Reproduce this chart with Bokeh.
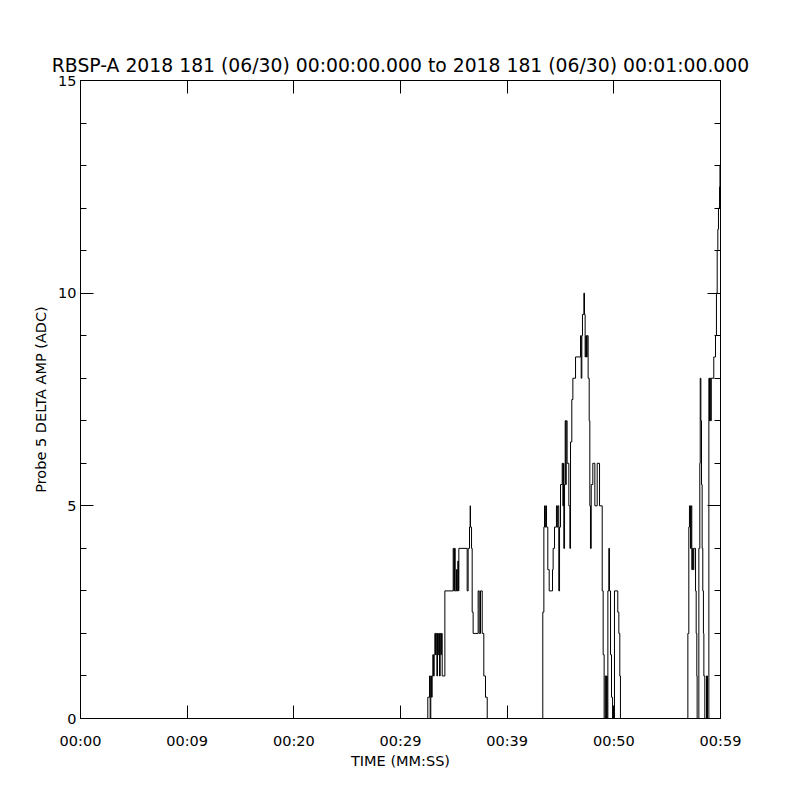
from bokeh.plotting import figure
from bokeh.models import Range1d, FixedTicker, LinearAxis, CustomLabelingPolicy
from bokeh.embed import file_html
from bokeh.resources import INLINE

# ---- data (seconds from 00:00:00, amplitude in ADC) ----
time_quiet = [0.0]
amp_quiet = [0.0]

time_burst1 = [32.56, 32.72, 32.78, 32.84, 32.91, 32.97, 33.03, 33.09, 33.16, 33.22,
               33.28, 33.34, 33.41, 33.47, 33.53, 33.59, 33.66, 33.72, 33.78, 33.84,
               33.91, 34.16, 34.94, 35.00, 35.06, 35.13, 35.25, 35.31, 35.37, 35.44,
               35.47, 36.25, 36.34, 36.47, 36.53, 36.56, 36.66, 36.72, 36.81, 37.28,
               37.38, 37.50, 37.66, 37.81, 37.97, 38.13]
amp_burst1 = [0.5, 1, 0, 1, 0.5, 1, 1.5, 1, 1.5, 2,
              1.5, 2, 1, 2, 1.5, 2, 1, 2, 1.5, 2,
              1, 3, 4, 3, 4, 3, 3.5, 3, 3.7, 3,
              4, 3, 4, 4.5, 5, 4.5, 4, 2.5, 2, 3,
              2, 3, 2, 1, 0.5, 0]

time_burst2 = [43.34, 43.44, 43.50, 43.56, 43.62, 43.69, 43.81, 43.94, 44.25, 44.31,
               44.44, 44.62, 44.69, 44.75, 44.84, 44.91, 45.00, 45.16, 45.22, 45.28,
               45.31, 45.38, 45.44, 45.50, 45.53, 45.62, 45.78, 45.88, 45.94, 46.06,
               46.16, 46.41, 46.88, 46.94, 47.00, 47.06, 47.19, 47.25, 47.31, 47.37,
               47.44, 47.50, 47.59, 47.69, 47.75, 47.81, 47.88, 48.03, 48.22, 48.44,
               48.66, 48.91, 49.00, 49.09, 49.19, 49.25, 49.31, 49.38, 49.44, 49.53,
               49.59, 49.69, 49.78, 49.88, 50.06, 50.37, 50.47, 50.56, 50.62]
amp_burst2 = [2.5, 4.5, 5, 4.5, 5, 4.5, 3.5, 3, 3.5, 4,
              4.5, 5, 4.5, 5, 3, 4.5, 5.5, 6, 5, 6,
              4, 5.5, 7, 5.5, 7, 6, 5, 4, 6.5, 7.5,
              8, 8.5, 9, 8, 9, 9.5, 10, 9.5, 8.5, 9,
              8.5, 9, 8, 7, 5, 4, 5.5, 6, 5, 6,
              5, 3, 1.5, 0, 1, 0, 1, 0, 3, 4,
              3, 1.5, 0.5, 0, 3, 2.5, 2, 1, 0]

time_burst3 = [56.94, 57.03, 57.09, 57.19, 57.25, 57.31, 57.38, 57.44, 57.50, 57.66,
               57.72, 57.78, 57.81, 57.97, 58.06, 58.10, 58.16, 58.22, 58.28, 58.34,
               58.40, 58.44, 58.53, 58.69, 58.78, 58.91, 58.97, 59.03, 59.09, 59.13,
               59.37, 59.53, 59.62, 59.69, 59.75, 59.81, 59.91, 59.95, 60.0]
amp_burst3 = [2, 4.5, 5, 4, 5, 3.5, 4, 3.5, 4, 3,
              2, 1, 0, 4, 6, 8, 7, 5.5, 4, 3,
              2, 1, 0, 1, 0, 8, 7, 8, 7, 8,
              8.5, 9, 10, 11, 11.5, 12, 12.5, 13, 13]

time_s = time_quiet + time_burst1 + time_burst2 + time_burst3
amp_adc = amp_quiet + amp_burst1 + amp_burst2 + amp_burst3

x_tick_values = [0, 10, 20, 30, 40, 50, 60]
x_tick_labels = ["00:00", "00:09", "00:20", "00:29", "00:39", "00:50", "00:59"]
y_tick_values = [0, 5, 10, 15]
y_minor_values = list(range(0, 16))

title_text = "RBSP-A 2018 181 (06/30) 00:00:00.000 to 2018 181 (06/30) 00:01:00.000"
x_label = "TIME (MM:SS)"
y_label = "Probe 5 DELTA AMP (ADC)"

FONT = "DejaVu Sans"
LBL = "14.5px"

p = figure(width=792, height=792, output_backend="svg", toolbar_location=None,
           x_range=Range1d(0, 60), y_range=Range1d(0, 15),
           min_border_left=80, min_border_right=72,
           min_border_top=80, min_border_bottom=74)

p.background_fill_color = "white"
p.border_fill_color = "white"
p.outline_line_color = "black"
p.outline_line_width = 1
p.xgrid.visible = False
p.ygrid.visible = False

p.title.text = title_text
p.title.align = "center"
p.title.text_font = FONT
p.title.text_font_size = "18.8px"
p.title.text_font_style = "normal"
p.title.text_color = "black"
p.title.standoff = 2

xt = FixedTicker(ticks=x_tick_values, minor_ticks=[])
yt = FixedTicker(ticks=y_tick_values, minor_ticks=y_minor_values)

xa = p.xaxis[0]
xa.ticker = xt
xa.major_label_overrides = {v: s for v, s in zip(x_tick_values, x_tick_labels)}
xa.axis_label = x_label
ya = p.yaxis[0]
ya.ticker = yt
ya.axis_label = y_label

for ax in (xa, ya):
    ax.axis_line_color = "black"
    ax.major_tick_line_color = "black"
    ax.minor_tick_line_color = "black"
    ax.major_tick_in = 13
    ax.major_tick_out = 0
    ax.minor_tick_in = 6
    ax.minor_tick_out = 0
    ax.major_label_text_font = FONT
    ax.major_label_text_font_size = LBL
    ax.major_label_text_color = "black"
    ax.axis_label_text_font = FONT
    ax.axis_label_text_font_size = LBL
    ax.axis_label_text_font_style = "normal"
    ax.axis_label_text_color = "black"

xa.major_label_standoff = 14
xa.axis_label_standoff = 1
ya.major_label_standoff = 4
ya.axis_label_standoff = 6

no_labels = CustomLabelingPolicy(code="return new Set()")
no_labels2 = CustomLabelingPolicy(code="return new Set()")

top = LinearAxis(ticker=FixedTicker(ticks=x_tick_values, minor_ticks=[]),
                 major_label_policy=no_labels, major_label_standoff=0,
                 major_label_text_font_size="1px",
                 major_tick_in=13, major_tick_out=0, minor_tick_in=0, minor_tick_out=0,
                 axis_line_color="black", major_tick_line_color="black")
right = LinearAxis(ticker=FixedTicker(ticks=y_tick_values, minor_ticks=y_minor_values),
                   major_label_policy=no_labels2, major_label_standoff=0,
                   major_label_text_font_size="1px",
                   major_tick_in=13, major_tick_out=0, minor_tick_in=6, minor_tick_out=0,
                   axis_line_color="black", major_tick_line_color="black",
                   minor_tick_line_color="black")
p.add_layout(top, "above")
p.add_layout(right, "right")

p.step(x=time_s, y=amp_adc, mode="after", line_color="black", line_width=1)

open("out.html", "w").write(file_html(p, INLINE))
